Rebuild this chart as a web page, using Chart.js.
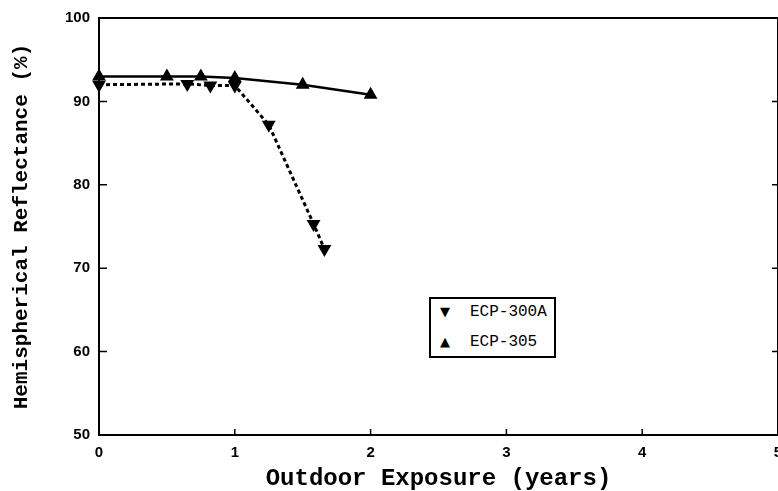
<!DOCTYPE html>
<html>
<head>
<meta charset="utf-8">
<script src="https://cdn.jsdelivr.net/npm/chart.js@4/dist/chart.umd.min.js"></script>
<style>
  html, body { margin: 0; padding: 0; background: #fff; overflow: hidden; }
  #wrap { position: relative; width: 800px; height: 491px; }
  #legend {
    position: absolute; left: 429px; top: 297px; width: 127px; height: 61px;
    box-sizing: border-box; border: 2px solid #000; background: #fff;
    font-family: "Liberation Mono", monospace; font-size: 16px; color: #000;
  }
  #legend .row { position: absolute; left: 0; height: 20px; line-height: 20px; white-space: nowrap; }
  #legend .mk { position: absolute; left: 6px; width: 16px; text-align: center; font-family: "DejaVu Sans", sans-serif; font-size: 13px; }
  #legend .tx { position: absolute; left: 39px; }
</style>
</head>
<body>
<div id="wrap">
  <canvas id="chart" width="800" height="491"></canvas>
  <div id="legend">
    <div class="row" style="top:3px"><span class="mk">▼</span><span class="tx">ECP-300A</span></div>
    <div class="row" style="top:33px"><span class="mk">▲</span><span class="tx">ECP-305</span></div>
  </div>
</div>
<script>
// valeurs
var years300A = [0, 0.65, 0.82, 1.0, 1.25, 1.58, 1.66];
var refl300A  = [92.0, 92.1, 91.9, 91.9, 87.2, 75.3, 72.3];
var years305  = [0, 0.5, 0.75, 1.0, 1.5, 2.0];
var refl305   = [93.0, 93.0, 93.0, 92.8, 92.0, 90.8];
var xTicks = [0, 1, 2, 3, 4, 5];
var yTicks = [50, 60, 70, 80, 90, 100];

function toPoints(xs, ys) {
	var pts = [];
	for (var k = 0; k < xs.length; k++) pts.push({x: xs[k], y: ys[k]});
	return pts;
}

// cadre + petits traits vers l'intérieur
var framePlugin = {
	id: 'frame',
	beforeDatasetsDraw: function(chart) {
		var ctx = chart.ctx, a = chart.chartArea;
		var xs = chart.scales.x, ys = chart.scales.y;
		ctx.save();
		ctx.strokeStyle = '#000';
		ctx.lineWidth = 2;
		ctx.strokeRect(a.left, a.top, a.right - a.left, a.bottom - a.top);
		ctx.lineWidth = 1.5;
		ctx.beginPath();
		for (var i = 1; i < yTicks.length - 1; i++) {
			var py = ys.getPixelForValue(yTicks[i]);
			ctx.moveTo(a.left, py); ctx.lineTo(a.left + 8, py);
			ctx.moveTo(a.right, py); ctx.lineTo(a.right - 6, py);
		}
		for (var j = 1; j < xTicks.length - 1; j++) {
			var px = xs.getPixelForValue(xTicks[j]);
			ctx.moveTo(px, a.bottom); ctx.lineTo(px, a.bottom - 6);
		}
		ctx.stroke();
		ctx.restore();
	}
};

var tickFont = { family: '"Liberation Sans", Arial, sans-serif', size: 15, weight: 'bold' };

new Chart(document.getElementById('chart'), {
	type: 'line',
	data: {
		datasets: [
			{
				label: 'ECP-300A',
				data: toPoints(years300A, refl300A),
				borderColor: '#000',
				backgroundColor: '#000',
				borderWidth: 3,
				borderDash: [4, 3],
				pointStyle: 'triangle',
				rotation: 180,
				pointRadius: 8,
				pointBorderWidth: 0,
				tension: 0,
				clip: false
			},
			{
				label: 'ECP-305',
				data: toPoints(years305, refl305),
				borderColor: '#000',
				backgroundColor: '#000',
				borderWidth: 2.5,
				pointStyle: 'triangle',
				pointRadius: 8,
				pointBorderWidth: 0,
				tension: 0,
				clip: false
			}
		]
	},
	options: {
		responsive: false,
		animation: false,
		layout: { padding: { top: 18, right: 22, left: 0, bottom: 0 } },
		plugins: { legend: { display: false }, tooltip: { enabled: false } },
		scales: {
			x: {
				type: 'linear',
				min: 0, max: 5,
				afterFit: function(s) { s.height = 56; },
				afterBuildTicks: function(s) { s.ticks = xTicks.map(function(v) { return {value: v}; }); },
				grid: { display: false, drawTicks: false },
				border: { display: false },
				ticks: { color: '#000', font: tickFont, padding: 9, maxRotation: 0 },
				title: {
					display: true,
					text: 'Outdoor Exposure (years)',
					color: '#000',
					font: { family: '"Liberation Mono", monospace', size: 24, weight: 'bold', lineHeight: 1 },
					padding: { top: 0, bottom: 0 }
				}
			},
			y: {
				min: 50, max: 100,
				afterFit: function(s) { s.width = 99; },
				afterBuildTicks: function(s) { s.ticks = yTicks.map(function(v) { return {value: v}; }); },
				grid: { display: false, drawTicks: false },
				border: { display: false },
				ticks: { color: '#000', font: tickFont, padding: 9 },
				title: {
					display: true,
					text: 'Hemispherical Reflectance (%)',
					color: '#000',
					font: { family: '"Liberation Mono", monospace', size: 21, weight: 'bold', lineHeight: 1 },
					padding: { top: 11, bottom: 0 }
				}
			}
		}
	},
	plugins: [framePlugin]
});
</script>
</body>
</html>
